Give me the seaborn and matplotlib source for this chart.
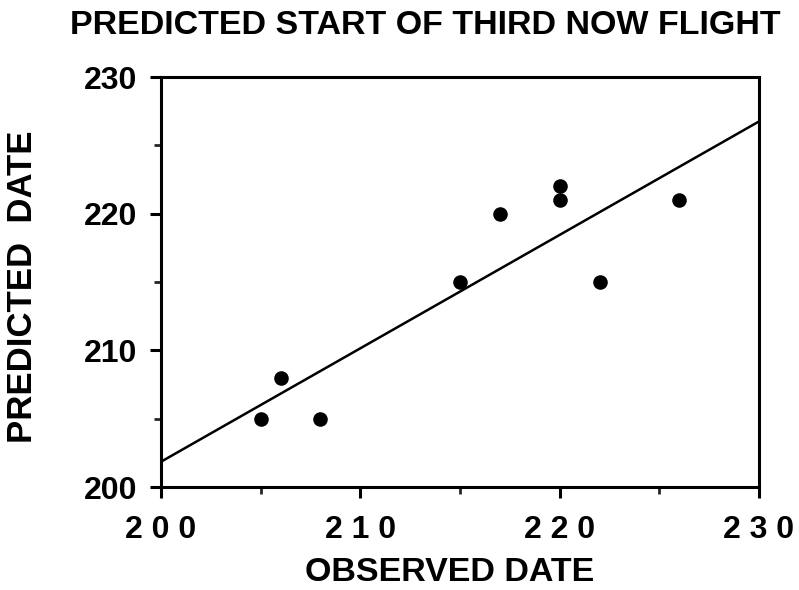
import matplotlib
matplotlib.use('Agg')
import matplotlib.pyplot as plt
import seaborn as sns
import pandas as pd
from matplotlib.ticker import MultipleLocator

# observed vs predicted start dates (day of year)
observed = [205, 206, 208, 215, 217, 220, 220, 222, 226]
predicted = [205, 208, 205, 215, 220, 221, 222, 215, 221]
tick_vals = [200, 210, 220, 230]
x_tick_labels = ['2 0 0', '2 1 0', '2 2 0', '2 3 0']

df = pd.DataFrame({'observed': observed, 'predicted': predicted})

sns.set_theme(style='ticks')
plt.rcParams['font.family'] = ['Liberation Sans', 'DejaVu Sans']
plt.rcParams['font.weight'] = 'bold'
plt.rcParams['text.color'] = 'black'
plt.rcParams['axes.labelcolor'] = 'black'

fig = plt.figure(figsize=(7.99, 5.90), dpi=100)
ax = fig.add_axes([161 / 799, 1 - 487 / 590, 598 / 799, 410 / 590])
ax.set_xlim(200, 230)
ax.set_ylim(200, 230)

sns.regplot(data=df, x='observed', y='predicted', ax=ax, ci=None, truncate=False,
            scatter_kws={'s': 110, 'color': 'black', 'alpha': 1, 'linewidths': 0},
            line_kws={'color': 'black', 'lw': 1.8})
ax.set_xlim(200, 230)
ax.set_ylim(200, 230)

for side in ['left', 'right', 'top', 'bottom']:
    ax.spines[side].set_linewidth(2.2)
    ax.spines[side].set_color('black')

ax.set_xticks(tick_vals)
ax.set_xticklabels(x_tick_labels)
ax.set_yticks(tick_vals)
ax.set_yticklabels([str(v) for v in tick_vals])
ax.xaxis.set_minor_locator(MultipleLocator(5))
ax.yaxis.set_minor_locator(MultipleLocator(5))
ax.tick_params(axis='both', which='major', direction='out', length=8, width=2.2,
               labelsize=23, colors='black', pad=9)
ax.tick_params(axis='both', which='minor', direction='out', length=5, width=2)
ax.tick_params(axis='x', which='major', pad=12)

ax.set_xlabel('OBSERVED DATE', fontsize=24.5, fontweight='bold', color='black')
ax.xaxis.set_label_coords((450 - 161) / 598, (487 - 557) / 410)
ax.set_ylabel('PREDICTED  DATE', fontsize=25, fontweight='bold', color='black')
ax.yaxis.set_label_coords((39 - 161) / 598, (487 - 287) / 410)
fig.text(425 / 799, 1 - 26 / 590, 'PREDICTED START OF THIRD NOW FLIGHT', fontsize=24.5,
         fontweight='bold', color='black', ha='center', va='center')

fig.savefig('out.png', dpi=100)
plt.close()
